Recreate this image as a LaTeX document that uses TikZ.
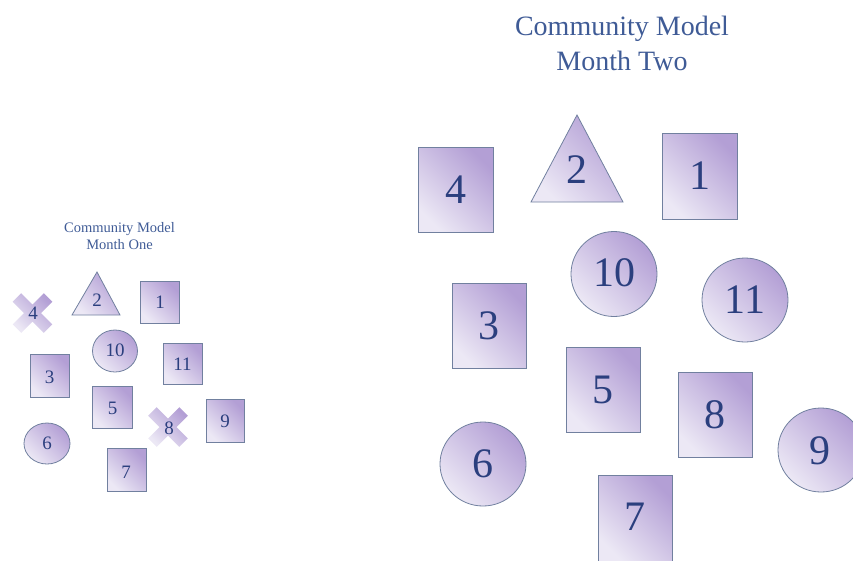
\documentclass[tikz,border=0pt]{standalone}
\usepackage{fontspec}
\setmainfont{Liberation Serif}
\definecolor{shdark}{HTML}{B39FD5}
\definecolor{shlight}{HTML}{ECE8F5}
\definecolor{shborder}{HTML}{71809F}
\definecolor{numblue}{HTML}{2B3F7E}
\definecolor{titleblue}{HTML}{3F5B96}
\tikzset{
  shp/.style={draw=shborder, line width=0.8pt, bottom color=shlight, top color=shdark, shading angle=-45},
  xshp/.style={bottom color=shlight, top color=shdark, shading angle=-45},
  bignum/.style={text=numblue, font=\fontsize{42}{42}\selectfont, inner sep=0pt},
  smallnum/.style={text=numblue, font=\fontsize{19}{19}\selectfont, inner sep=0pt},
  bigtitle/.style={text=titleblue, font=\fontsize{28}{35}\selectfont, align=center, inner sep=0pt},
  smalltitle/.style={text=titleblue, font=\fontsize{14.5}{17}\selectfont, align=center, inner sep=0pt},
}
\newcommand{\xcross}[2]{%
  \shade[xshp] (#1,#2) ++(-19.8,-11.3) -- ++(8.5,-8.5) -- ++(11.3,11.3) -- ++(11.3,-11.3) -- ++(8.5,8.5)
    -- ++(-11.3,11.3) -- ++(11.3,11.3) -- ++(-8.5,8.5) -- ++(-11.3,-11.3) -- ++(-11.3,11.3) -- ++(-8.5,-8.5)
    -- ++(11.3,-11.3) -- cycle;}
\begin{document}
\begin{tikzpicture}[x=1pt,y=-1pt]
\useasboundingbox (0,0) rectangle (853,560);
\clip (0,0) rectangle (853,560);
% ---------- Month Two (right) ----------
\node[bigtitle] (t2) at (622,43) {Community Model\\Month Two};
\shade[shp] (418,147) rectangle (493,232);
\node[bignum] (r4) at (455.5,189.5) {4};
\shade[shp] (577,115) -- (623,202) -- (531,202) -- cycle;
\node[bignum] (r2) at (577,170) {2};
\shade[shp] (662,133) rectangle (737,219);
\node[bignum] (r1) at (699.5,176) {1};
\shade[shp] (614,274) ellipse [x radius=43, y radius=42.5];
\node[bignum] (r10) at (614,273) {10};
\shade[shp] (745,300) ellipse [x radius=43, y radius=42];
\node[bignum] (r11) at (745,300) {11};
\shade[shp] (452,283) rectangle (526,368);
\node[bignum] (r3) at (489,325.5) {3};
\shade[shp] (566,347) rectangle (640,432);
\node[bignum] (r5) at (603,389.5) {5};
\shade[shp] (678,372) rectangle (752,457);
\node[bignum] (r8) at (715,414.5) {8};
\shade[shp] (821,450) ellipse [x radius=43, y radius=42];
\node[bignum] (r9) at (820,451) {9};
\shade[shp] (483,464) ellipse [x radius=43, y radius=42];
\node[bignum] (r6) at (483,464) {6};
\shade[shp] (598,475) rectangle (672,561);
\node[bignum] (r7) at (635,517) {7};
% ---------- Month One (left) ----------
\node[smalltitle] (t1) at (119.5,236.5) {Community Model\\Month One};
\xcross{32.5}{313}
\node[smallnum] (l4) at (33,313) {4};
\shade[shp] (97,272) -- (120,315) -- (72,315) -- cycle;
\node[smallnum] (l2) at (97,300) {2};
\shade[shp] (140,281) rectangle (179,323);
\node[smallnum] (l1) at (160,302.5) {1};
\shade[shp] (115,351) ellipse [x radius=22.5, y radius=21];
\node[smallnum] (l10) at (115,350) {10};
\shade[shp] (163,343) rectangle (202,384);
\node[smallnum] (l11) at (182.5,364.5) {11};
\shade[shp] (30,354) rectangle (69,397);
\node[smallnum] (l3) at (49.5,377) {3};
\shade[shp] (92,386) rectangle (132,428);
\node[smallnum] (l5) at (112.5,408) {5};
\xcross{168}{427}
\node[smallnum] (l8) at (169,428) {8};
\shade[shp] (206,399) rectangle (244,442);
\node[smallnum] (l9) at (225,421) {9};
\shade[shp] (47,443.5) ellipse [x radius=23, y radius=20.5];
\node[smallnum] (l6) at (47,443.5) {6};
\shade[shp] (107,448) rectangle (146,491);
\node[smallnum] (l7) at (126,472) {7};
\end{tikzpicture}
\end{document}
